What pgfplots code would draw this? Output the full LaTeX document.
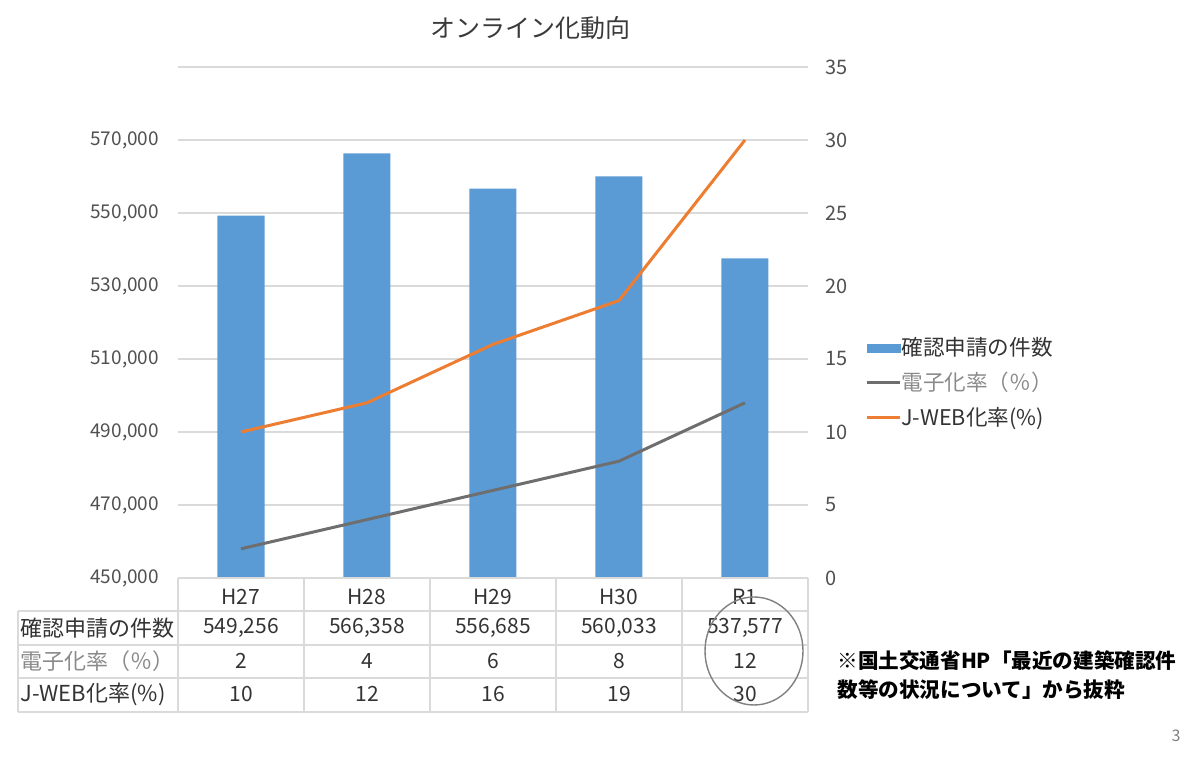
\documentclass[border=0pt]{standalone}
\usepackage{pgfplots}
\pgfplotsset{compat=1.18}
\usepackage{fontspec}
\setmainfont{Noto Sans CJK JP}
\definecolor{barblue}{HTML}{5B9BD5}
\definecolor{linegray}{HTML}{6E6E6E}
\definecolor{lineorange}{HTML}{ED7D31}
\definecolor{gridgray}{HTML}{DADADA}
\definecolor{tickgray}{HTML}{505050}
\definecolor{titlegray}{HTML}{3A3A3A}
\definecolor{lightlabel}{HTML}{8A8A8A}
\definecolor{tabletext}{HTML}{333333}
\begin{document}
\begin{tikzpicture}
\path[use as bounding box] (0,0) rectangle (600pt,379.5pt);
\begin{axis}[at={(89pt,90.5pt)}, anchor=south west, width=315pt, height=255.5pt, scale only axis,
  xmin=-0.5, xmax=4.5, ymin=450000, ymax=590000,
  xtick=\empty, scaled y ticks=false,
  ytick={450000,470000,490000,510000,530000,550000,570000,590000},
  yticklabels={{450,000},{470,000},{490,000},{510,000},{530,000},{550,000},{570,000},{}},
  ymajorgrids, grid style={draw=gridgray, line width=0.7pt},
  axis line style={draw=none}, major tick length=0pt,
  yticklabel style={font=\fontsize{9.5}{11}\selectfont, text=tickgray, xshift=-6pt},
  ybar, bar width=23.5pt]
\addplot[fill=barblue, draw=none] coordinates {(0,549256) (1,566358) (2,556685) (3,560033) (4,537577)};
\end{axis}
\begin{axis}[at={(89pt,90.5pt)}, anchor=south west, width=315pt, height=255.5pt, scale only axis,
  xmin=-0.5, xmax=4.5, ymin=0, ymax=35,
  hide x axis, axis y line*=right,
  ytick={0,5,...,35},
  axis line style={draw=none}, major tick length=0pt,
  /pgf/number format/assume math mode=true,
  yticklabel style={font=\fontsize{10}{12}\selectfont, text=tickgray, xshift=5pt},
  legend style={at={(1.0905,0.4795)}, anchor=north west, draw=none, fill=none,
    font=\fontsize{10.8}{12}\selectfont, row sep=2.8pt, inner sep=0pt, cells={anchor=west}},
  legend cell align=left,
  legend image code/.code={\draw[#1] (0pt,0pt) -- (16.5pt,0pt);}]
\addlegendimage{legend image code/.code={\fill[barblue] (0pt,-2pt) rectangle (16.5pt,2pt);}}
\addlegendentry{\hspace{-2pt}\textcolor{tabletext}{確認申請の件数}}
\addplot[color=linegray, line width=1.5pt] coordinates {(0,2) (1,4) (2,6) (3,8) (4,12)};
\addlegendentry{\hspace{-2pt}\textcolor{lightlabel}{電子化率（％）}}
\addplot[color=lineorange, line width=1.5pt] coordinates {(0,10) (1,12) (2,16) (3,19) (4,30)};
\addlegendentry{\hspace{-2pt}\textcolor{tabletext}{J-WEB化率(\%)}}
\end{axis}
\begin{scope}[x=0.5pt,y=-0.5pt,shift={(0pt,379.5pt)}]
  \node[text=titlegray, font=\fontsize{12.5}{14}\selectfont] at (530,28) {オンライン化動向};
  % table
  \draw[gridgray, line width=0.7pt] (178,578) -- (808,578);
  \foreach \yy in {611,645,678,712} {\draw[gridgray, line width=0.7pt] (18,\yy) -- (808,\yy);}
  \foreach \xx in {178,304,430,556,682,808} {\draw[gridgray, line width=0.7pt] (\xx,578) -- (\xx,712);}
  \draw[gridgray, line width=0.7pt] (18,611) -- (18,712);
  \begin{scope}[every node/.style={font=\fontsize{10.5}{12}\selectfont, text=tabletext}]
  \node at (241,597) {H27};
  \node at (367,597) {H28};
  \node at (493,597) {H29};
  \node at (619,597) {H30};
  \node at (745,597) {R1};
  \node[anchor=west, inner sep=0pt, font=\fontsize{11}{12}\selectfont] at (20,628) {確認申請の件数};
  \node[anchor=west, inner sep=0pt, font=\fontsize{11}{12}\selectfont, text=lightlabel] at (20,661) {電子化率（％）};
  \node[anchor=west, inner sep=0pt, font=\fontsize{11}{12}\selectfont] at (20,694) {J-WEB化率(\%)};
  \node at (241,628) {549,256};
  \node at (367,628) {566,358};
  \node at (493,628) {556,685};
  \node at (619,628) {560,033};
  \node at (745,628) {537,577};
  \node at (241,661) {2};
  \node at (367,661) {4};
  \node at (493,661) {6};
  \node at (619,661) {8};
  \node at (745,661) {12};
  \node at (241,694) {10};
  \node at (367,694) {12};
  \node at (493,694) {16};
  \node at (619,694) {19};
  \node at (745,694) {30};
  \end{scope}
  \draw[gray, line width=0.7pt] (754,651) ellipse [x radius=24.5pt, y radius=27pt];
  \node[anchor=west, inner sep=0pt, font=\fontsize{10.3}{12}\selectfont\bfseries] at (837,661) {※国土交通省HP「最近の建築確認件};
  \node[anchor=west, inner sep=0pt, font=\fontsize{10.3}{12}\selectfont\bfseries] at (837,690) {数等の状況について」から抜粋};
  \node[text=gray, font=\fontsize{8}{9}\selectfont] at (1176,736) {3};
\end{scope}
\end{tikzpicture}
\end{document}
